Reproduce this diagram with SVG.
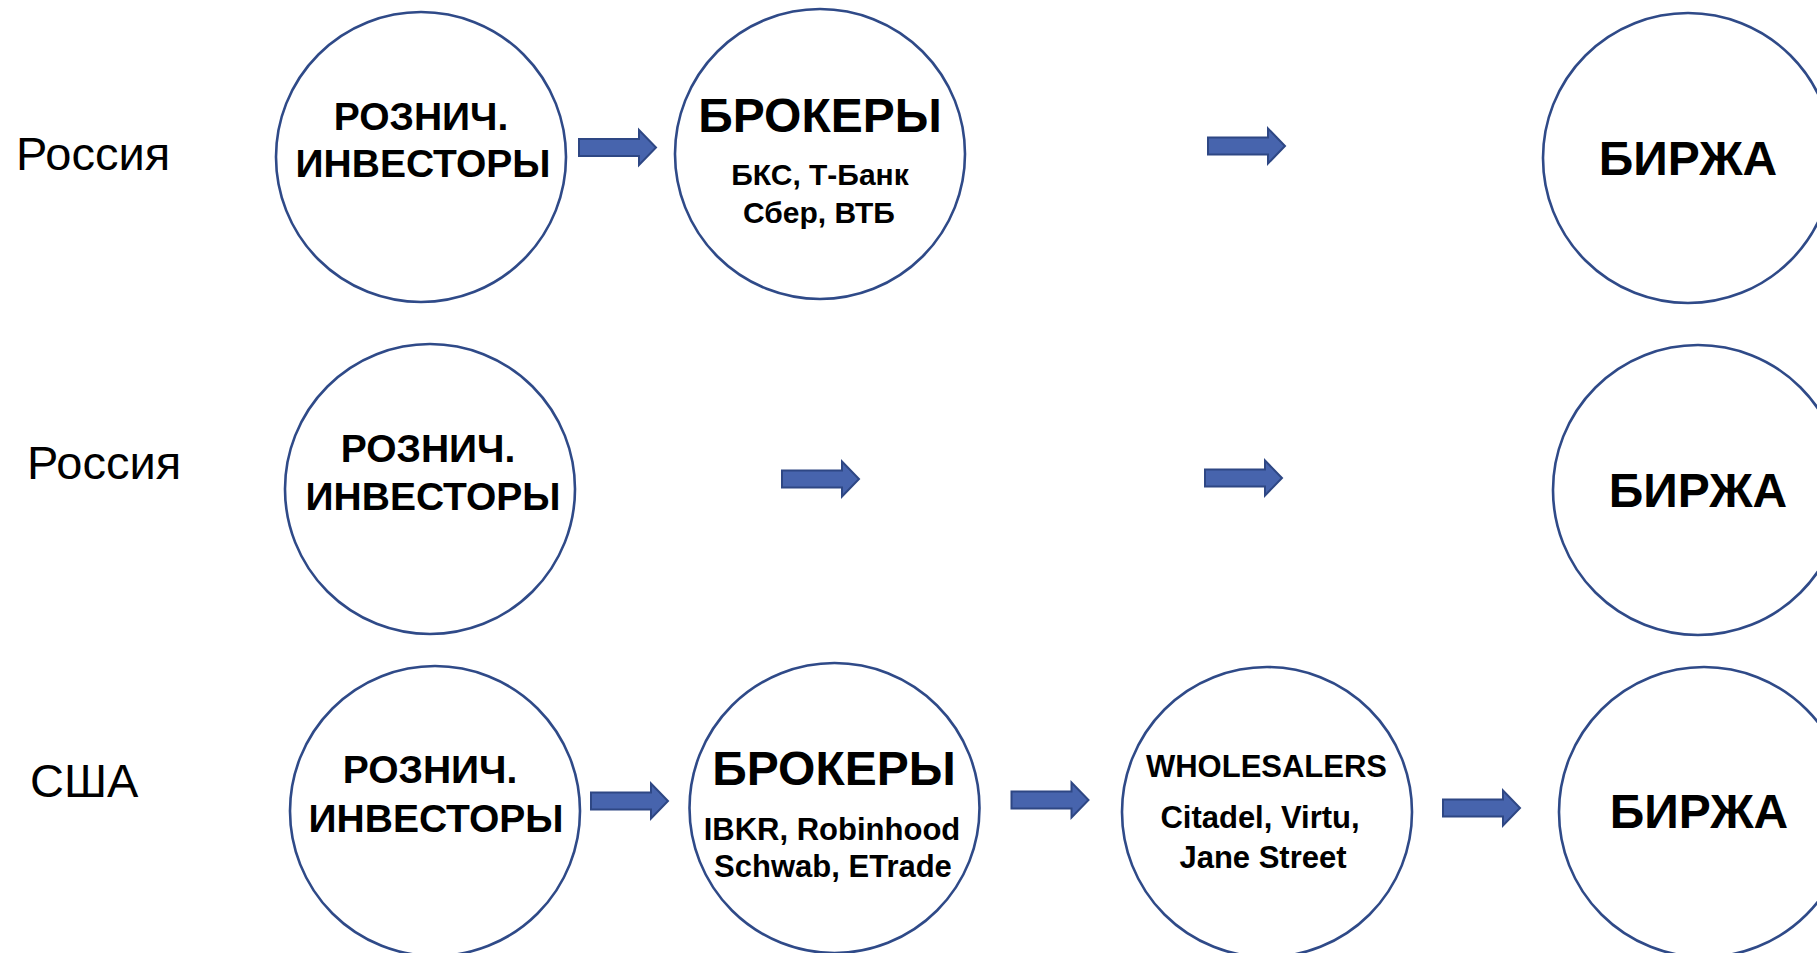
<svg xmlns="http://www.w3.org/2000/svg" xmlns:xlink="http://www.w3.org/1999/xlink" width="1817" height="953" viewBox="0 0 1817 953">
<style>
.node{fill:#fff;stroke:#2F4A88;stroke-width:2.6}
.t{font-family:"Liberation Sans",Arial,sans-serif;font-weight:bold;fill:#000;text-anchor:middle}
.t39{font-size:39px}
.t48{font-size:48px}
.t31{font-size:31px}
.t30{font-size:30px}
.lbl{font-family:"Liberation Sans",Arial,sans-serif;font-size:47px;fill:#000}
.arrow{fill:#4764AD;stroke:#2E4784;stroke-width:2}
</style>
<defs>
<path id="arr" d="M0,-8.5 H60 V-17.5 L77,0 L60,17.5 V8.5 H0 Z"/>
</defs>
<rect width="1817" height="953" fill="#fff"/>
<text class="lbl" x="16" y="170">Россия</text>
<text class="lbl" x="27" y="479">Россия</text>
<text class="lbl" x="30" y="797">США</text>
<g id="connectors">
<use href="#arr" xlink:href="#arr" class="arrow" x="579" y="147.5"/>
<use href="#arr" xlink:href="#arr" class="arrow" x="1208" y="146"/>
<use href="#arr" xlink:href="#arr" class="arrow" x="782" y="479"/>
<use href="#arr" xlink:href="#arr" class="arrow" x="1205" y="478"/>
<use href="#arr" xlink:href="#arr" class="arrow" x="591" y="801"/>
<use href="#arr" xlink:href="#arr" class="arrow" x="1011.5" y="800"/>
<use href="#arr" xlink:href="#arr" class="arrow" x="1443" y="808"/>
</g>
<g id="r1-investors">
<circle class="node" cx="421" cy="157" r="145"/>
<text class="t t39" x="421" y="130">РОЗНИЧ.</text>
<text class="t t39" x="423" y="177">ИНВЕСТОРЫ</text>
</g>
<g id="r1-brokers">
<circle class="node" cx="820" cy="154" r="145"/>
<text class="t t48" x="820" y="132">БРОКЕРЫ</text>
<text class="t t30" x="820" y="185">БКС, Т-Банк</text>
<text class="t t30" x="819" y="223">Сбер, ВТБ</text>
</g>
<g id="r1-exchange">
<circle class="node" cx="1688" cy="158" r="145"/>
<text class="t t48" x="1688" y="175">БИРЖА</text>
</g>
<g id="r2-investors">
<circle class="node" cx="430" cy="489" r="145"/>
<text class="t t39" x="428" y="462">РОЗНИЧ.</text>
<text class="t t39" x="433" y="510">ИНВЕСТОРЫ</text>
</g>
<g id="r2-exchange">
<circle class="node" cx="1698" cy="490" r="145"/>
<text class="t t48" x="1698" y="507">БИРЖА</text>
</g>
<g id="r3-investors">
<circle class="node" cx="435" cy="811" r="145"/>
<text class="t t39" x="430" y="783">РОЗНИЧ.</text>
<text class="t t39" x="436" y="832">ИНВЕСТОРЫ</text>
</g>
<g id="r3-brokers">
<circle class="node" cx="834.5" cy="808" r="145"/>
<text class="t t48" x="834" y="785">БРОКЕРЫ</text>
<text class="t t31" x="832" y="840">IBKR, Robinhood</text>
<text class="t t31" x="833" y="877">Schwab, ETrade</text>
</g>
<g id="r3-wholesalers">
<circle class="node" cx="1267" cy="812" r="145"/>
<text class="t t31" x="1266.5" y="777">WHOLESALERS</text>
<text class="t t31" x="1260" y="828">Citadel, Virtu,</text>
<text class="t t31" x="1263" y="868">Jane Street</text>
</g>
<g id="r3-exchange">
<circle class="node" cx="1704" cy="812" r="145"/>
<text class="t t48" x="1699" y="828">БИРЖА</text>
</g>
</svg>
